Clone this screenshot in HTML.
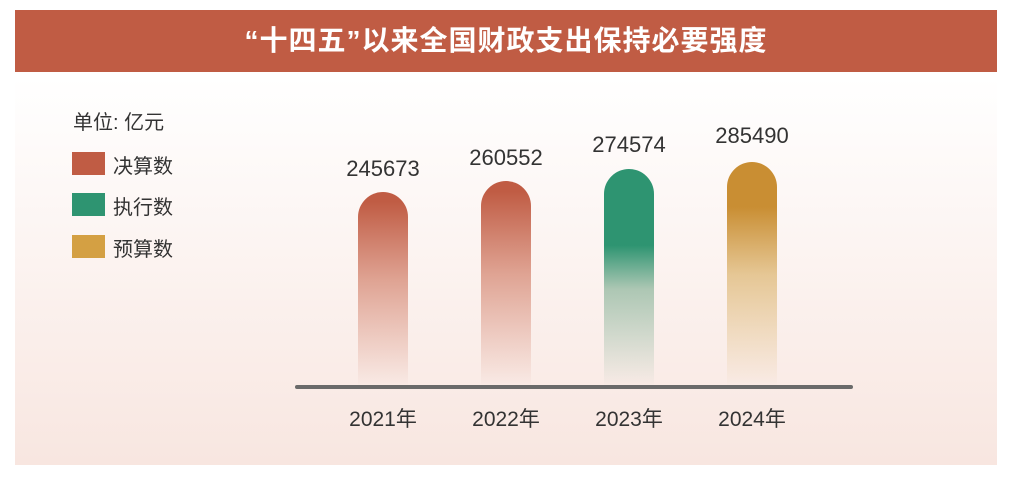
<!DOCTYPE html>
<html><head><meta charset="utf-8"><style>
body{margin:0;width:1013px;height:481px;background:#fff;position:relative;overflow:hidden;font-family:"Liberation Sans","Noto Sans CJK SC",sans-serif;color:#333}
.panel{position:absolute;left:15px;top:10px;width:982px;height:455px;background:linear-gradient(#fff 15%,#f8e6e0)}
.ban{position:absolute;left:15px;top:10px;width:982px;height:62px;background:#c05c44;color:#fff;font-size:28px;font-weight:bold;text-align:center;line-height:62px;letter-spacing:1px}
.t{position:absolute;font-size:20px;color:#333;white-space:nowrap}
.sw{position:absolute;left:72px;width:33px;height:23px}
.bar{position:absolute;width:50px;border-radius:25px 25px 0 0;bottom:94px}
.v{position:absolute;font-size:22px;width:120px;text-align:center;color:#333}
.y{position:absolute;font-size:21px;width:120px;text-align:center;top:403px;color:#333}
</style></head><body>
<div class="panel"></div>
<div class="ban">“十四五”以来全国财政支出保持必要强度</div>
<div class="t" style="left:73px;top:106px">单位: 亿元</div>
<div class="sw" style="top:152px;background:#c05c44"></div><div class="t" style="left:113px;top:150px">决算数</div>
<div class="sw" style="top:193px;background:#2e9471"></div><div class="t" style="left:113px;top:191px">执行数</div>
<div class="sw" style="top:235px;background:#d4a043"></div><div class="t" style="left:113px;top:233px">预算数</div>
<div class="bar" style="left:358px;top:192px;background:linear-gradient(#c05c44 5%,rgba(204,110,85,.6) 45%,rgba(240,210,200,0))"></div>
<div class="bar" style="left:481px;top:181px;background:linear-gradient(#c05c44 5%,rgba(204,110,85,.6) 45%,rgba(240,210,200,0))"></div>
<div class="bar" style="left:604px;top:169px;background:linear-gradient(#2e9471 35%,rgba(120,170,140,.6) 55%,rgba(230,230,220,0))"></div>
<div class="bar" style="left:727px;top:162px;background:linear-gradient(#c98e33 20%,rgba(220,180,110,.7) 50%,rgba(245,225,200,0))"></div>
<div style="position:absolute;left:295px;top:385px;width:558px;height:4px;background:#6a6a6a;border-radius:2px"></div>
<div class="v" style="left:323px;top:156px">245673</div>
<div class="v" style="left:446px;top:145px">260552</div>
<div class="v" style="left:569px;top:132px">274574</div>
<div class="v" style="left:692px;top:123px">285490</div>
<div class="y" style="left:323px">2021年</div>
<div class="y" style="left:446px">2022年</div>
<div class="y" style="left:569px">2023年</div>
<div class="y" style="left:692px">2024年</div>
</body></html>
